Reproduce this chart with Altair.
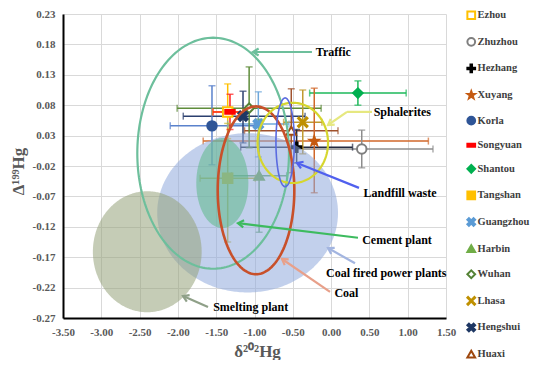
import math
import altair as alt
import pandas as pd

# ---------------- data ----------------
cities = ["Ezhou", "Zhuzhou", "Hezhang", "Xuyang", "Korla", "Songyuan", "Shantou",
          "Tangshan", "Guangzhou", "Harbin", "Wuhan", "Lhasa", "Hengshui", "Huaxi"]
d202 = [-1.35, 0.40, -0.45, -0.22, -1.555, -1.32, 0.35, -1.35, -0.95, -0.94, -1.07, -0.37, -1.15, -0.52]
D199 = [0.069, 0.008, 0.011, 0.021, 0.046, 0.069, 0.100, -0.040, 0.049, -0.036, 0.075, 0.052, 0.062, 0.038]
d202_lo = [-1.55, -0.53, -1.18, -1.67, -2.10, -1.54, -0.28, -1.71, -1.35, -1.30, -2.01, -0.62, -1.93, -1.13]
d202_hi = [-1.15, 1.33, 0.28, 1.27, -1.00, -1.12, 0.98, -0.99, -0.55, -0.58, -0.13, -0.12, -0.34, 0.09]
D199_lo = [0.025, -0.023, -0.015, -0.064, -0.018, 0.040, 0.080, -0.145, -0.005, -0.129, 0.010, 0.000, 0.018, -0.031]
D199_hi = [0.115, 0.039, 0.040, 0.108, 0.112, 0.098, 0.120, 0.050, 0.102, 0.057, 0.143, 0.105, 0.103, 0.107]

# source ellipses: name, centre and semi-axes (data units)
ell_names = ["Coal fired power plants", "Cement plant", "Smelting plant", "Traffic", "Coal", "Sphalerites", "Landfill waste"]
ell_cx = [-1.09, -1.42, -2.40, -1.54, -0.98, -0.50, -0.60]
ell_cy = [-0.097, -0.048, -0.161, 0.001, -0.060, 0.018, 0.019]
ell_rx = [1.18, 0.34, 0.71, 0.99, 0.50, 0.46, 0.12]
ell_ry = [0.131, 0.074, 0.0995, 0.19, 0.138, 0.066, 0.073]
ell_filled = [True, True, True, False, False, False, False]

# annotation labels and arrows
lab_text = ["Traffic", "Sphalerites", "Landfill waste", "Cement plant", "Coal fired power plants", "Coal", "Smelting plant"]
lab_x = [0.03, 0.93, 0.90, 0.86, 0.72, 0.20, -1.05]
lab_y = [0.1675, 0.069, -0.064, -0.142, -0.196, -0.229, -0.252]
arr_x1 = [-0.25, 0.534, 0.208, 0.364, 0.351, 0.312, -0.014, -1.607]
arr_y1 = [0.1675, 0.069, 0.069, -0.056, -0.138, -0.180, -0.227, -0.252]
arr_x2 = [-1.02, 0.208, -0.040, -0.445, -1.215, -0.040, -0.641, -1.933]
arr_y2 = [0.1675, 0.069, 0.0474, -0.015, -0.114, -0.155, -0.173, -0.234]
arr_head = [True, False, True, True, True, True, True, True]

x_ticks = [-3.5, -3.0, -2.5, -2.0, -1.5, -1.0, -0.5, 0.0, 0.5, 1.0, 1.5]
y_ticks = [-0.27, -0.22, -0.17, -0.12, -0.07, -0.02, 0.03, 0.08, 0.13, 0.18, 0.23]

# ---------------- styles ----------------
STAR = "M0,-1L0.235,-0.324L0.951,-0.309L0.38,0.124L0.588,0.809L0,0.4L-0.588,0.809L-0.38,0.124L-0.951,-0.309L-0.235,-0.324Z"
XTHICK = "M-1,-0.6L-0.6,-1L0,-0.4L0.6,-1L1,-0.6L0.4,0L1,0.6L0.6,1L0,0.4L-0.6,1L-1,0.6L-0.4,0Z"
XTHIN = "M-1,-0.82L-0.82,-1L0,-0.18L0.82,-1L1,-0.82L0.18,0L1,0.82L0.82,1L0,0.18L-0.82,1L-1,0.82L-0.18,0Z"
PLUS = "M-1,-0.2L-0.2,-0.2L-0.2,-1L0.2,-1L0.2,-0.2L1,-0.2L1,0.2L0.2,0.2L0.2,1L-0.2,1L-0.2,0.2L-1,0.2Z"
DASH = "M-1,-0.38L1,-0.38L1,0.38L-1,0.38Z"
CHEVRON = "M1.6,-1L0,0L1.6,1"

shapes = ["square", "circle", PLUS, STAR, "circle", DASH, "diamond",
          "square", XTHICK, "triangle-up", "diamond", XTHIN, XTHICK, "triangle-up"]
strokes = ["#FFC000", "#7F7F7F", "#000000", "#C55A11", "#2F5597", "#FF0000", "#00B050",
           "#FFC000", "#5B9BD5", "#70AD47", "#548235", "#BF9000", "#1F3864", "#9E480E"]
fills = ["#FFFFFF", "#FFFFFF", "#000000", "#C55A11", "#2F5597", "#FF0000", "#00B050",
         "#FFC000", "#5B9BD5", "#70AD47", "#FFFFFF", "#BF9000", "#1F3864", "#FFFFFF"]
bar_cols = ["#FFC000", "#8C8C8C", "#222A40", "#D0672A", "#5A82CC", "#FF2020", "#1DB85A",
            "#C8B830", "#6FA8DC", "#6AA86A", "#5E8C3A", "#C09A30", "#2B3F6E", "#A0522D"]
ell_fill = ["#8FAADC", "#5FB88A", "#96A27A", None, None, None, None]
ell_op = [0.55, 0.55, 0.55, 1, 1, 1, 1]
ell_stroke = [None, None, None, "#6DBF9C", "#C8502A", "#D6D62E", "#5A6BE0"]
ell_sw = [0, 0, 0, 2.2, 2.6, 2.2, 1.6]
arr_cols = ["#6DBF9C", "#E6E880", "#E6E880", "#5060EE", "#3DBB5F", "#A3B5E0", "#E8A08A", "#8FA088"]

FONT = "Liberation Serif"
XS = 383 / 5.0     # px per unit (for arrow-head angle only)
YS = 304 / 0.5

pts = pd.DataFrame({"city": cities, "x": d202, "y": D199, "xlo": d202_lo, "xhi": d202_hi,
                    "ylo": D199_lo, "yhi": D199_hi, "bc": bar_cols})

xs = alt.Scale(domain=[-3.5, 1.5], nice=False, zero=False)
ys = alt.Scale(domain=[-0.27, 0.23], nice=False, zero=False)
fix = "replace(format(datum.value, '.2f'), '\u2212', '-')"

X = lambda f: alt.X(f, type="quantitative", scale=xs,
                    axis=alt.Axis(values=x_ticks, labelExpr=fix, title="δ²⁰²Hg", labelFlush=False,
                                  titleY=38, titleBaseline="alphabetic", titleX=194, titleAlign="center"))
Y = lambda f: alt.Y(f, type="quantitative", scale=ys,
                    axis=alt.Axis(values=y_ticks, labelExpr=fix, title="Δ¹⁹⁹Hg", labelFlush=False,
                                  titleX=-45, titleY=157, titleBaseline="middle", titleAlign="center"))
col = alt.Color("bc:N", scale=None)

base = alt.Chart(pts)
hbar = base.mark_rule(strokeWidth=1.5).encode(x=X("xlo"), x2="xhi", y=Y("y"), color=col)
vbar = base.mark_rule(strokeWidth=1.5).encode(x=X("x"), y=Y("ylo"), y2="yhi", color=col)
caps = []
for fx in ["xlo", "xhi"]:
    caps.append(base.mark_tick(orient="vertical", size=7, thickness=1.5).encode(x=X(fx), y=Y("y"), color=col))
for fy in ["ylo", "yhi"]:
    caps.append(base.mark_tick(orient="horizontal", size=7, thickness=1.5).encode(x=X("x"), y=Y(fy), color=col))

points = base.mark_point(opacity=1, strokeWidth=2, size=90).encode(
    x=X("x"), y=Y("y"),
    shape=alt.Shape("city:N", scale=alt.Scale(domain=cities, range=shapes), title=None),
    fill=alt.Fill("city:N", scale=alt.Scale(domain=cities, range=fills), title=None),
    stroke=alt.Stroke("city:N", scale=alt.Scale(domain=cities, range=strokes), title=None),
)

# ellipses, generated by Vega expressions from centre / radii
ell_df = pd.DataFrame({"name": ell_names, "cx": ell_cx, "cy": ell_cy, "rx": ell_rx, "ry": ell_ry})
ell_layers_fill = []
ell_layers_line = []
for i, nm in enumerate(ell_names):
    e = alt.Chart(ell_df).transform_filter(alt.datum.name == nm)
    if ell_filled[i]:
        e = e.transform_calculate(deg="sequence(0, 181, 1)").transform_flatten(["deg"]).transform_calculate(
            t="datum.deg * PI / 180",
        ).transform_calculate(
            ex="datum.cx + datum.rx * cos(datum.t)",
            ey="datum.cy + datum.ry * sin(datum.t)",
            ey2="datum.cy - datum.ry * sin(datum.t)",
        )
        ell_layers_fill.append(e.mark_area(color=ell_fill[i], opacity=ell_op[i]).encode(
            x=X("ex"), y=Y("ey"), y2="ey2"))
    else:
        e = e.transform_calculate(deg="sequence(0, 362, 2)").transform_flatten(["deg"]).transform_calculate(
            t="datum.deg * PI / 180",
        ).transform_calculate(
            ex="datum.cx + datum.rx * cos(datum.t)",
            ey="datum.cy + datum.ry * sin(datum.t)",
        )
        ell_layers_line.append(e.mark_line(color=ell_stroke[i], strokeWidth=ell_sw[i]).encode(
            x=X("ex"), y=Y("ey"), order=alt.Order("deg:Q")))

# annotations
lab_df = pd.DataFrame({"t": lab_text, "x": lab_x, "y": lab_y})
labels = alt.Chart(lab_df).mark_text(font=FONT, fontWeight="bold", fontSize=12, color="#000000").encode(
    x=X("x"), y=Y("y"), text="t:N")

angles = []
for i in range(len(arr_x1)):
    dx = (arr_x2[i] - arr_x1[i]) * XS
    dy = -(arr_y2[i] - arr_y1[i]) * YS
    angles.append(math.degrees(math.atan2(-dy, -dx)) % 360)
arr_df = pd.DataFrame({"x1": arr_x1, "y1": arr_y1, "x2": arr_x2, "y2": arr_y2,
                       "c": arr_cols, "ang": angles, "head": arr_head})
arr_lines = alt.Chart(arr_df).mark_rule(strokeWidth=2.2).encode(
    x=X("x1"), y=Y("y1"), x2="x2", y2="y2", color=alt.Color("c:N", scale=None))
arr_heads = alt.Chart(arr_df).transform_filter("datum.head").mark_point(
    shape=CHEVRON, filled=False, strokeWidth=2.2, size=50, opacity=1).encode(
    x=X("x2"), y=Y("y2"), color=alt.Color("c:N", scale=None), angle=alt.Angle("ang:Q", scale=None))

layers = [hbar, vbar] + caps + [points] + ell_layers_fill + ell_layers_line + [arr_lines, arr_heads, labels]

chart = alt.layer(*layers).properties(
    width=383, height=304,
    autosize=alt.AutoSizeParams(type="none"),
    padding={"left": 55, "top": 6, "right": 86, "bottom": 42},
).configure_view(stroke=None).configure_axis(
    labelFont=FONT, labelFontWeight="bold", labelFontSize=11, labelColor="#595959",
    titleFont=FONT, titleFontWeight="bold", titleFontSize=17, titleColor="#595959",
    gridColor="#D9D9D9", gridWidth=1, ticks=False, domainColor="#000000", domainWidth=2,
    labelPadding=8, labelFlush=False,
).configure_legend(
    orient="none", legendX=403, legendY=-4,
    labelFont=FONT, labelFontWeight="bold", labelFontSize=10.5, labelColor="#404040",
    symbolSize=60, symbolStrokeWidth=2, rowPadding=9.6, labelOffset=1,
)

chart.save("out.html", embed_options={"renderer": "svg", "actions": False})
